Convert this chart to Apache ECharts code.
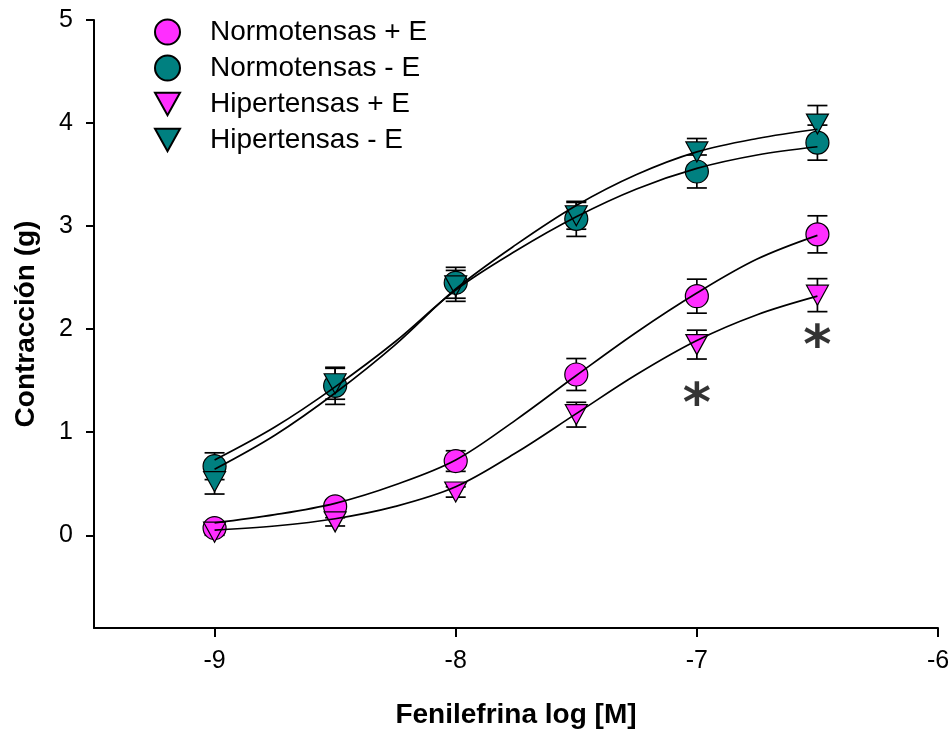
<!DOCTYPE html>
<html>
<head>
<meta charset="utf-8">
<script src="https://cdn.jsdelivr.net/npm/echarts@6/dist/echarts.min.js"></script>
<style>
    html, body { margin: 0; padding: 0; background: #fff; }
    #chart { width: 950px; height: 730px; }
</style>
</head>
<body>
<div id="chart"></div>
<script>
// doses (log M)
const doses = [-9, -8.5, -8, -7.5, -7, -6.5];

// means and SEM
const normoPlusE = [0.07, 0.28, 0.72, 1.56, 2.32, 2.92];
const normoPlusESem = [0.04, 0.06, 0.10, 0.155, 0.165, 0.18];
const normoMinusE = [0.67, 1.45, 2.45, 3.07, 3.53, 3.81];
const normoMinusESem = [0.13, 0.18, 0.15, 0.17, 0.16, 0.17];
const hiperPlusE = [0.03, 0.13, 0.42, 1.17, 1.85, 2.33];
const hiperPlusESem = [0.03, 0.04, 0.05, 0.12, 0.14, 0.16];
const hiperMinusE = [0.52, 1.47, 2.42, 3.10, 3.72, 3.99];
const hiperMinusESem = [0.12, 0.15, 0.15, 0.13, 0.13, 0.18];

// fitted curves, every 0.25 log unit
const curveX = [-9, -8.75, -8.5, -8.25, -8, -7.75, -7.5, -7.25, -7, -6.75, -6.5];
const normoPlusEFit = [0.12, 0.20, 0.31, 0.49, 0.73, 1.12, 1.55, 1.97, 2.35, 2.68, 2.91];
const normoMinusEFit = [0.73, 1.05, 1.44, 1.88, 2.38, 2.76, 3.09, 3.36, 3.56, 3.69, 3.77];
const hiperPlusEFit = [0.05, 0.09, 0.16, 0.28, 0.47, 0.80, 1.18, 1.56, 1.89, 2.14, 2.32];
const hiperMinusEFit = [0.64, 0.97, 1.38, 1.85, 2.39, 2.82, 3.20, 3.50, 3.72, 3.85, 3.94];

// significance marks
const starX = [-7, -6.5];
const starY = [1.38, 1.94];

const xTicks = [-9, -8, -7, -6];
const yTicks = [0, 1, 2, 3, 4, 5];

const magenta = '#ff2eff';
const teal = '#008080';
const font = 'Arial, "Liberation Sans", sans-serif';
const downTriangle = 'path://M0,0 L20,0 L10,18 Z';

let chart = echarts.init(document.getElementById('chart'), null, { renderer: 'canvas' });

function pts(ys, xs) {
    return ys.map((y, i) => [xs[i], y]);
}

function bars(ys, sem) {
    return ys.map((y, i) => [doses[i], y - sem[i], y + sem[i]]);
}

function renderErrorBar(params, api) {
    const x = api.value(0);
    const lo = api.coord([x, api.value(1)]);
    const hi = api.coord([x, api.value(2)]);
    const w = 10;
    const st = { stroke: '#000', lineWidth: 1.7 };
    return {
        type: 'group',
        children: [
            { type: 'line', shape: { x1: lo[0], y1: lo[1], x2: hi[0], y2: hi[1] }, style: st },
            { type: 'line', shape: { x1: lo[0] - w, y1: lo[1], x2: lo[0] + w, y2: lo[1] }, style: st },
            { type: 'line', shape: { x1: hi[0] - w, y1: hi[1], x2: hi[0] + w, y2: hi[1] }, style: st }
        ]
    };
}

function errSeries(ys, sem) {
    return {
        type: 'custom',
        renderItem: renderErrorBar,
        data: bars(ys, sem),
        encode: { x: 0, y: [1, 2] },
        z: 1,
        silent: true
    };
}

function fitSeries(ys) {
    return {
        type: 'line',
        data: pts(ys, curveX),
        smooth: 0.35,
        showSymbol: false,
        lineStyle: { color: '#000', width: 1.7 },
        z: 4,
        silent: true
    };
}

function dotSeries(name, ys, symbol, color) {
    return {
        name: name,
        type: 'scatter',
        data: pts(ys, doses),
        symbol: symbol,
        symbolSize: symbol === 'circle' ? 23 : [22, 20],
        itemStyle: { color: color, borderColor: '#000', borderWidth: 1.2, opacity: 1 },
        z: 3
    };
}

let option = {
    animation: false,
    backgroundColor: '#fff',
    grid: { left: 94, right: 12, top: 20, bottom: 102, outerBoundsMode: 'none' },
    legend: {
        orient: 'vertical',
        left: 149,
        top: 13,
        itemWidth: 25,
        itemHeight: 25,
        itemGap: 8,
        data: [
            { name: 'Normotensas + E', icon: 'circle' },
            { name: 'Normotensas - E', icon: 'circle' },
            { name: 'Hipertensas + E', icon: downTriangle },
            { name: 'Hipertensas - E', icon: downTriangle }
        ],
        textStyle: { fontFamily: font, fontSize: 28, color: '#000', padding: [0, 0, 0, 25] }
    },
    xAxis: {
        type: 'value',
        min: -9.5,
        max: -6,
        name: 'Fenilefrina log [M]',
        nameLocation: 'middle',
        nameGap: 73,
        nameTextStyle: { fontFamily: font, fontSize: 28, fontWeight: 'bold', color: '#000' },
        axisLine: { onZero: false, lineStyle: { color: '#000', width: 2 } },
        axisTick: { length: 9, customValues: xTicks, lineStyle: { color: '#000', width: 2 } },
        axisLabel: { customValues: xTicks, margin: 21, fontFamily: font, fontSize: 25, color: '#000' },
        splitLine: { show: false }
    },
    yAxis: {
        type: 'value',
        min: -0.9,
        max: 5,
        name: 'Contracción (g)',
        nameLocation: 'middle',
        nameRotate: 90,
        nameGap: 54,
        nameTextStyle: { fontFamily: font, fontSize: 28, fontWeight: 'bold', color: '#000' },
        axisLine: { show: true, onZero: false, lineStyle: { color: '#000', width: 2 } },
        axisTick: { show: true, length: 8, customValues: yTicks, lineStyle: { color: '#000', width: 2 } },
        axisLabel: { customValues: yTicks, margin: 21, fontFamily: font, fontSize: 25, color: '#000' },
        splitLine: { show: false }
    },
    series: [
        errSeries(normoPlusE, normoPlusESem),
        errSeries(normoMinusE, normoMinusESem),
        errSeries(hiperPlusE, hiperPlusESem),
        errSeries(hiperMinusE, hiperMinusESem),
        dotSeries('Normotensas + E', normoPlusE, 'circle', magenta),
        dotSeries('Normotensas - E', normoMinusE, 'circle', teal),
        dotSeries('Hipertensas + E', hiperPlusE, downTriangle, magenta),
        dotSeries('Hipertensas - E', hiperMinusE, downTriangle, teal),
        fitSeries(normoPlusEFit),
        fitSeries(normoMinusEFit),
        fitSeries(hiperPlusEFit),
        fitSeries(hiperMinusEFit),
        {
            type: 'scatter',
            data: pts(starY, starX),
            symbolSize: 0,
            silent: true,
            z: 5,
            label: {
                show: true,
                position: 'inside',
                formatter: '*',
                fontFamily: '"DejaVu Sans", sans-serif',
                fontSize: 54,
                fontWeight: 'bold',
                color: '#000',
                offset: [0, 14]
            }
        }
    ]
};

chart.setOption(option);
</script>
</body>
</html>
